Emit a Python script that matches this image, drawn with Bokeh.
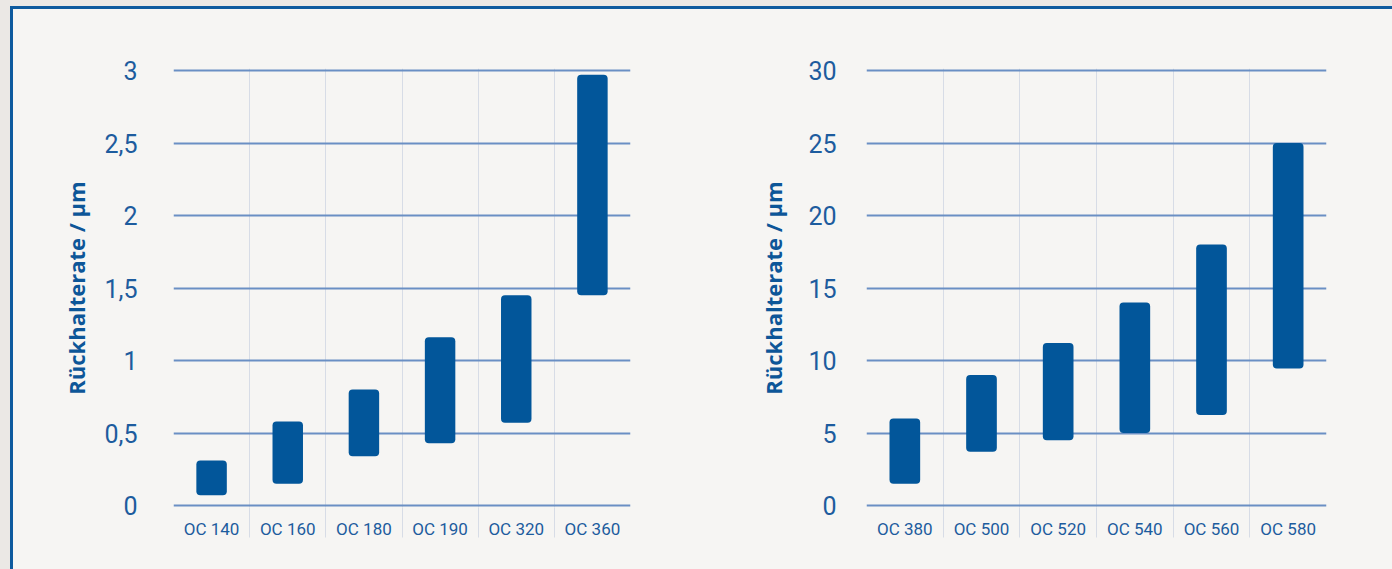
from bokeh.plotting import figure
from bokeh.models import Range1d, FixedTicker, ColumnDataSource
from bokeh.layouts import row
from bokeh.embed import file_html
from bokeh.resources import INLINE

# ---------------- data ----------------
left_categories = ["OC 140", "OC 160", "OC 180", "OC 190", "OC 320", "OC 360"]
left_low = [0.07, 0.15, 0.34, 0.43, 0.57, 1.45]
left_high = [0.31, 0.58, 0.80, 1.16, 1.45, 2.97]
left_yticks = [0, 0.5, 1, 1.5, 2, 2.5, 3]
left_ylabels = ["0", "0,5", "1", "1,5", "2", "2,5", "3"]

right_categories = ["OC 380", "OC 500", "OC 520", "OC 540", "OC 560", "OC 580"]
right_low = [1.5, 3.7, 4.5, 5.0, 6.25, 9.45]
right_high = [6.0, 9.0, 11.2, 14.0, 18.0, 25.0]
right_yticks = [0, 5, 10, 15, 20, 25, 30]
right_ylabels = ["0", "5", "10", "15", "20", "25", "30"]

y_title = "Rückhalterate / µm"

# ---------------- style ----------------
BAR = "#02569a"
GRID = "#6a8fc4"
VGRID = "#d7dce6"
TEXT = "#1d5c9e"
TITLE = "#0d5698"
BG = "#f6f5f3"
FRAME = "#0e5a9e"
OUTER = "#ebe8e5"
TICK_FONT = "Roboto"
TITLE_FONT = "Open Sans"


def make_chart(categories, low, high, yticks, ylabels, width, mb_left, mb_right,
               label_standoff, title_standoff):
    n = len(categories)
    centers = [i + 0.5 for i in range(n)]
    bounds = [float(i) for i in range(1, n)]
    src = ColumnDataSource(dict(x=centers, low=low, high=high, cat=categories))

    pad = (yticks[-1] - yticks[0]) * 2.0 / 435.0  # 2 px so edge gridlines are drawn
    p = figure(width=width, height=560, output_backend="svg", toolbar_location=None,
               x_range=Range1d(0, n),
               y_range=Range1d(yticks[0] - pad, yticks[-1] + pad),
               min_border_left=mb_left, min_border_right=mb_right,
               min_border_top=59, min_border_bottom=62)
    p.background_fill_color = BG
    p.border_fill_color = BG
    p.outline_line_color = None

    p.vbar(x="x", bottom="low", top="high", width=0.4, source=src,
           fill_color=BAR, line_color=None, border_radius=4)

    # x axis: labels at category centres, separators (minor ticks) at boundaries
    xa = p.xaxis[0]
    xa.ticker = FixedTicker(ticks=centers, minor_ticks=bounds)
    xa.major_label_overrides = {c: lab for c, lab in zip(centers, categories)}
    xa.axis_line_color = None
    xa.major_tick_in = 0
    xa.major_tick_out = 0
    xa.minor_tick_in = 0
    xa.minor_tick_out = 30
    xa.minor_tick_line_color = VGRID
    xa.minor_tick_line_width = 1
    xa.major_label_text_font = TICK_FONT
    xa.major_label_text_font_size = "17px"
    xa.major_label_text_color = TEXT
    xa.major_label_standoff = -19

    # y axis
    ya = p.yaxis[0]
    ya.ticker = FixedTicker(ticks=yticks)
    ya.major_label_overrides = {t: lab for t, lab in zip(yticks, ylabels)}
    ya.axis_line_color = None
    ya.major_tick_in = 0
    ya.major_tick_out = 0
    ya.minor_tick_line_color = None
    ya.major_label_text_font = TICK_FONT
    ya.major_label_text_font_size = "25px"
    ya.major_label_text_color = TEXT
    ya.major_label_standoff = label_standoff
    ya.axis_label = y_title
    ya.axis_label_text_font = TITLE_FONT
    ya.axis_label_text_font_style = "bold"
    ya.axis_label_text_font_size = "22px"
    ya.axis_label_text_color = TITLE
    ya.axis_label_standoff = title_standoff

    p.ygrid.grid_line_color = GRID
    p.ygrid.grid_line_width = 2
    p.xgrid.grid_line_color = None
    p.xgrid.minor_grid_line_color = VGRID
    p.xgrid.minor_grid_line_width = 1
    return p


p1 = make_chart(left_categories, left_low, left_high, left_yticks, left_ylabels,
                width=687, mb_left=160, mb_right=70, label_standoff=36, title_standoff=10)
p2 = make_chart(right_categories, right_low, right_high, right_yticks, right_ylabels,
                width=692, mb_left=166, mb_right=66, label_standoff=30, title_standoff=17)

layout = row(p1, p2, margin=(6, 0, 0, 10),
             styles={"border-top": f"3px solid {FRAME}",
                     "border-left": f"3px solid {FRAME}",
                     "background-color": BG,
                     "box-shadow": f"0 0 0 12px {OUTER}"})

open("out.html", "w").write(file_html(layout, INLINE))
